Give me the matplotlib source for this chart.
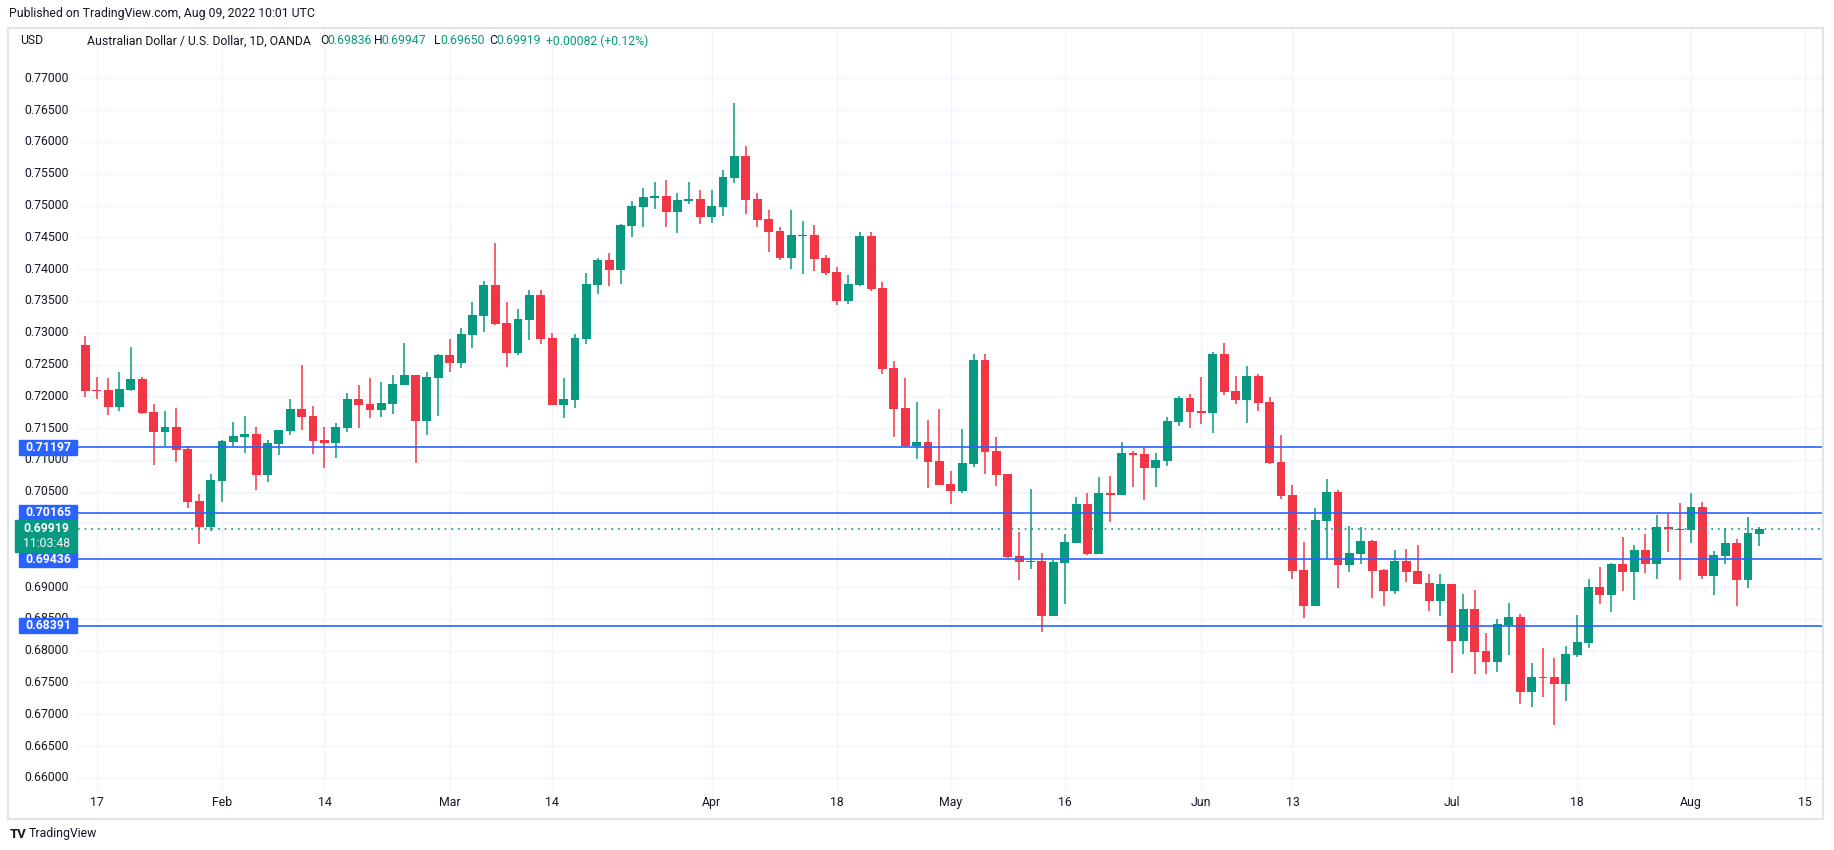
import matplotlib
matplotlib.use("Agg")
import matplotlib.pyplot as plt
import matplotlib.transforms as mtransforms
from matplotlib.patches import Rectangle
import pandas as pd

# AUD/USD daily, OANDA, 14 Jan - 9 Aug 2022
opens = [0.72807, 0.72090, 0.72098, 0.71836, 0.72104, 0.72271, 0.71752, 0.71443, 0.71517, 0.71171,
         0.70353, 0.69950, 0.70673, 0.71286, 0.71365, 0.71407, 0.70767, 0.71255, 0.71459, 0.71800,
         0.71690, 0.71312, 0.71270, 0.71506, 0.71957, 0.71878, 0.71784, 0.71883, 0.72182, 0.72334,
         0.71616, 0.72292, 0.72648, 0.72528, 0.72968, 0.73267, 0.73749, 0.73152, 0.72685, 0.73204,
         0.73592, 0.72916, 0.71868, 0.71947, 0.72906, 0.73756, 0.74144, 0.73992, 0.74684, 0.74982,
         0.75124, 0.75150, 0.74904, 0.75077, 0.75103, 0.74825, 0.74982, 0.75439, 0.75779, 0.75103,
         0.74789, 0.74600, 0.74180, 0.74526, 0.74537, 0.74175, 0.73955, 0.73504, 0.73756, 0.74521,
         0.73703, 0.72445, 0.71816, 0.71223, 0.71281, 0.70982, 0.70620, 0.70516, 0.70941, 0.72571,
         0.71139, 0.70778, 0.69488, 0.69399, 0.69415, 0.68550, 0.69383, 0.69698, 0.70306, 0.69525,
         0.70479, 0.70453, 0.71108, 0.71093, 0.70879, 0.70989, 0.71602, 0.71974, 0.71769, 0.71743,
         0.72665, 0.72084, 0.71942, 0.72320, 0.71911, 0.70967, 0.70448, 0.69270, 0.68709, 0.70045,
         0.70496, 0.69353, 0.69526, 0.69724, 0.69270, 0.68943, 0.69410, 0.69253, 0.69065, 0.68788,
         0.69050, 0.68159, 0.68657, 0.67996, 0.67829, 0.68410, 0.68530, 0.67355, 0.67585, 0.67585,
         0.67480, 0.67935, 0.68127, 0.68999, 0.68880, 0.69362, 0.69242, 0.69583, 0.69368, 0.69945,
         0.69913, 0.69902, 0.70259, 0.69179, 0.69494, 0.69693, 0.69116, 0.69836]
highs = [0.72953, 0.72298, 0.72282, 0.72381, 0.72774, 0.72297, 0.71878, 0.71768, 0.71815, 0.71218,
         0.70463, 0.70778, 0.71312, 0.71595, 0.71684, 0.71517, 0.71312, 0.71469, 0.71957, 0.72491,
         0.71847, 0.71517, 0.71580, 0.72051, 0.72177, 0.72287, 0.72224, 0.72334, 0.72837, 0.72334,
         0.72381, 0.72659, 0.72900, 0.73073, 0.73482, 0.73812, 0.74409, 0.73482, 0.73372, 0.73670,
         0.73670, 0.72989, 0.72287, 0.72979, 0.73939, 0.74180, 0.74254, 0.74705, 0.75072, 0.75276,
         0.75371, 0.75402, 0.75197, 0.75371, 0.75245, 0.75245, 0.75559, 0.76613, 0.75937, 0.75197,
         0.74930, 0.74663, 0.74930, 0.74757, 0.74694, 0.74222, 0.74034, 0.73902, 0.74584, 0.74584,
         0.73798, 0.72555, 0.72288, 0.71910, 0.71627, 0.71800, 0.70825, 0.71486, 0.72665, 0.72665,
         0.71360, 0.70778, 0.69871, 0.70542, 0.69541, 0.69425, 0.69834, 0.70416, 0.70479, 0.70731,
         0.70747, 0.71282, 0.71140, 0.71197, 0.71108, 0.71675, 0.72005, 0.72037, 0.72304, 0.72692,
         0.72838, 0.72320, 0.72477, 0.72351, 0.71989, 0.71386, 0.70606, 0.69710, 0.70245, 0.70700,
         0.70527, 0.69962, 0.69946, 0.69740, 0.69285, 0.69583, 0.69598, 0.69661, 0.69205, 0.69205,
         0.69050, 0.68893, 0.68956, 0.68279, 0.68500, 0.68751, 0.68576, 0.67811, 0.68047, 0.67889,
         0.68072, 0.68562, 0.69128, 0.69315, 0.69378, 0.69787, 0.69661, 0.69834, 0.70133, 0.70149,
         0.70317, 0.70479, 0.70338, 0.69567, 0.69924, 0.69756, 0.70102, 0.69947]
lows = [0.71994, 0.71962, 0.71711, 0.71773, 0.72088, 0.71726, 0.70919, 0.71223, 0.70972, 0.70249,
        0.69683, 0.69887, 0.70343, 0.71202, 0.71113, 0.70531, 0.70657, 0.71082, 0.71391, 0.71475,
        0.71097, 0.70877, 0.71035, 0.71443, 0.71506, 0.71658, 0.71679, 0.71721, 0.72182, 0.70956,
        0.71396, 0.71695, 0.72386, 0.72449, 0.72764, 0.73015, 0.73125, 0.72465, 0.72654, 0.72890,
        0.72827, 0.71868, 0.71663, 0.71821, 0.72827, 0.73609, 0.73740, 0.73771, 0.74511, 0.74668,
        0.74951, 0.74668, 0.74574, 0.75030, 0.74715, 0.74731, 0.74841, 0.75360, 0.74872, 0.74668,
        0.74275, 0.74149, 0.74007, 0.73929, 0.73976, 0.73913, 0.73441, 0.73457, 0.73740, 0.73661,
        0.72356, 0.71365, 0.71202, 0.71019, 0.70563, 0.70610, 0.70311, 0.70484, 0.70893, 0.70783,
        0.70594, 0.69462, 0.69116, 0.69289, 0.68298, 0.68550, 0.68738, 0.69698, 0.69509, 0.69525,
        0.70024, 0.70453, 0.70573, 0.70370, 0.70573, 0.70905, 0.71539, 0.71502, 0.71565, 0.71423,
        0.72026, 0.71879, 0.71581, 0.71775, 0.70935, 0.70390, 0.69134, 0.68520, 0.68709, 0.69443,
        0.68992, 0.69244, 0.69368, 0.68834, 0.68707, 0.68896, 0.69085, 0.69055, 0.68631, 0.68552,
        0.67656, 0.67954, 0.67640, 0.67640, 0.67671, 0.67939, 0.67166, 0.67118, 0.67275, 0.66835,
        0.67213, 0.67907, 0.68047, 0.68733, 0.68607, 0.68943, 0.68801, 0.69226, 0.69132, 0.69556,
        0.69116, 0.69698, 0.69132, 0.68880, 0.69368, 0.68707, 0.68990, 0.69650]
closes = [0.72088, 0.72085, 0.71836, 0.72114, 0.72271, 0.71742, 0.71443, 0.71517, 0.71160, 0.70343,
          0.69950, 0.70683, 0.71297, 0.71375, 0.71407, 0.70767, 0.71265, 0.71469, 0.71800, 0.71679,
          0.71302, 0.71270, 0.71517, 0.71957, 0.71868, 0.71784, 0.71894, 0.72193, 0.72334, 0.71616,
          0.72303, 0.72648, 0.72528, 0.72979, 0.73277, 0.73749, 0.73136, 0.72685, 0.73214, 0.73592,
          0.72905, 0.71868, 0.71957, 0.72916, 0.73766, 0.74144, 0.73992, 0.74694, 0.74993, 0.75135,
          0.75150, 0.74904, 0.75087, 0.75103, 0.74825, 0.74993, 0.75449, 0.75779, 0.75093, 0.74778,
          0.74589, 0.74180, 0.74537, 0.74537, 0.74165, 0.73944, 0.73504, 0.73766, 0.74521, 0.73693,
          0.72435, 0.71805, 0.71223, 0.71281, 0.70972, 0.70610, 0.70516, 0.70951, 0.72571, 0.71131,
          0.70767, 0.69478, 0.69399, 0.69415, 0.68550, 0.69399, 0.69708, 0.70306, 0.69525, 0.70479,
          0.70453, 0.71108, 0.71078, 0.70879, 0.70999, 0.71612, 0.71974, 0.71759, 0.71743, 0.72665,
          0.72073, 0.71942, 0.72320, 0.71900, 0.70951, 0.70437, 0.69260, 0.68709, 0.70056, 0.70496,
          0.69353, 0.69537, 0.69724, 0.69259, 0.68943, 0.69410, 0.69243, 0.69055, 0.68788, 0.69050,
          0.68159, 0.68657, 0.67986, 0.67829, 0.68421, 0.68530, 0.67355, 0.67585, 0.67575, 0.67480,
          0.67946, 0.68138, 0.69003, 0.68880, 0.69362, 0.69242, 0.69583, 0.69368, 0.69945, 0.69908,
          0.69902, 0.70259, 0.69179, 0.69504, 0.69693, 0.69116, 0.69850, 0.69919]

levels = [0.71197, 0.70165, 0.69436, 0.68391]
last_price = 0.69919
countdown = "11:03:48"

tick_dates = ["2022-01-17", "2022-02-01", "2022-02-14", "2022-03-01", "2022-03-14", "2022-04-01",
              "2022-04-18", "2022-05-02", "2022-05-16", "2022-06-01", "2022-06-13", "2022-07-01",
              "2022-07-18", "2022-08-01", "2022-08-15"]
tick_labels = ["17", "Feb", "14", "Mar", "14", "Apr", "18", "May", "16", "Jun", "13", "Jul",
               "18", "Aug", "15"]
price_ticks = [round(0.660 + 0.005 * k, 3) for k in range(23)]
# these two sit fully under the price boxes on the reference, so no label is shown
hidden_ticks = [0.695, 0.700]

UP = "#089981"
DOWN = "#F23645"
BLUE = "#2962FF"
GRID = "#F0F3FA"
TXT = "#131722"
FONT = "Roboto"
FS = 8.8

plt.rcParams["font.family"] = [FONT, "DejaVu Sans"]

W, H = 1834, 850


def fx(x):
    return x / W


def fy(y):
    return 1 - y / H


fig = plt.figure(figsize=(W / 100, H / 100), dpi=100)
fig.patch.set_facecolor("white")

# outer frame
fig.add_artist(Rectangle((fx(8), fy(819)), fx(1823) - fx(8), fy(28) - fy(819),
                         transform=fig.transFigure, fill=False, ec="#E0E3EB", lw=1.5))

ax = fig.add_axes([fx(78), fy(790), fx(1822) - fx(78), fy(28) - fy(790)])
ax.set_facecolor("white")
for s in ax.spines.values():
    s.set_visible(False)
ax.set_xticks([])
ax.set_yticks([])

dates = pd.bdate_range("2022-01-14", "2022-08-09")
axis_days = list(pd.bdate_range("2022-01-14", "2022-08-15"))
xs = list(range(len(dates)))

ax.set_xlim(-0.64, 152.5)
ax.set_ylim(0.65808, 0.77793)

# grid
for p in price_ticks:
    ax.axhline(p, color=GRID, lw=1, zorder=0)
tick_pos = [axis_days.index(pd.Timestamp(d)) for d in tick_dates]
for t in tick_pos:
    ax.axvline(t, color=GRID, lw=1, zorder=0)

# candles
body_w = 0.78
min_h = 0.00016
for i, o, h, l, c in zip(xs, opens, highs, lows, closes):
    col = UP if c >= o else DOWN
    ax.vlines(i, l, h, color=col, lw=1.1, zorder=3)
    bot = min(o, c)
    hgt = max(abs(c - o), min_h)
    if abs(c - o) < min_h:
        bot = (o + c) / 2 - min_h / 2
    ax.bar(i, hgt, bottom=bot, width=body_w, color=col, lw=0, zorder=4)

# horizontal levels and last price line
for lv in levels:
    ax.axhline(lv, color=BLUE, lw=1.2, zorder=5)
ax.axhline(last_price, color=UP, lw=1.2, ls=(0, (1, 3)), zorder=5)

# price axis (left)
trans = mtransforms.blended_transform_factory(ax.transAxes, ax.transData)
ax_w = fx(1822) - fx(78)


def axx(px):
    return (fx(px) - fx(78)) / ax_w


for p in price_ticks:
    if p in hidden_ticks:
        continue
    ax.text(axx(69), p, "%.5f" % p, transform=trans, ha="right", va="center",
            fontsize=FS, color=TXT, clip_on=False, zorder=6)

px_per_price = 6358
box_h = 15 / px_per_price
for lv in levels:
    ax.add_patch(Rectangle((axx(19), lv - box_h / 2), axx(77) - axx(19), box_h,
                           transform=trans, color=BLUE, clip_on=False, zorder=7))
    ax.text(axx(48), lv, "%.5f" % lv, transform=trans, ha="center", va="center",
            fontsize=FS, color="white", fontweight="bold", clip_on=False, zorder=8)

top_g = last_price + 8.5 / px_per_price
bot_g = last_price - 23.5 / px_per_price
ax.add_patch(Rectangle((axx(15), bot_g), axx(77) - axx(15), top_g - bot_g,
                       transform=trans, color=UP, clip_on=False, zorder=9))
ax.text(axx(46), last_price, "%.5f" % last_price, transform=trans, ha="center", va="center",
        fontsize=FS, color="white", fontweight="bold", clip_on=False, zorder=10)
ax.text(axx(46), last_price - 14.5 / px_per_price, countdown, transform=trans, ha="center",
        va="center", fontsize=FS, color="white", clip_on=False, zorder=10)

# time axis labels
xtrans = mtransforms.blended_transform_factory(ax.transData, ax.transAxes)
for t, lab in zip(tick_pos, tick_labels):
    ax.text(t, -0.0165, lab, transform=xtrans, ha="center", va="center",
            fontsize=FS, color=TXT, clip_on=False)

# header / legend texts
fig.text(fx(9), fy(14), "Published on TradingView.com, Aug 09, 2022 10:01 UTC",
         fontsize=FS, color=TXT, va="center", ha="left")
fig.text(fx(20), fy(41), "USD", fontsize=FS, color=TXT, va="center", ha="left")
legend_parts = [(87, "Australian Dollar / U.S. Dollar, 1D, OANDA", TXT),
                (320, "O", TXT), (327, "%.5f" % opens[-1], UP),
                (374, "H", TXT), (381, "%.5f" % highs[-1], UP),
                (434, "L", TXT), (440, "%.5f" % lows[-1], UP),
                (489, "C", TXT), (496, "%.5f" % closes[-1], UP),
                (546, "+0.00082 (+0.12%)", UP)]
for x, s, col in legend_parts:
    fig.text(fx(x), fy(41), s, fontsize=FS, color=col, va="center", ha="left")

# footer logo
fig.text(fx(10), fy(834), "TV", fontsize=9.5, color=TXT, fontweight="bold", va="center", ha="left")
fig.text(fx(29), fy(834), "TradingView", fontsize=FS, color=TXT, va="center", ha="left")

fig.savefig("out.png", dpi=100, facecolor="white")
